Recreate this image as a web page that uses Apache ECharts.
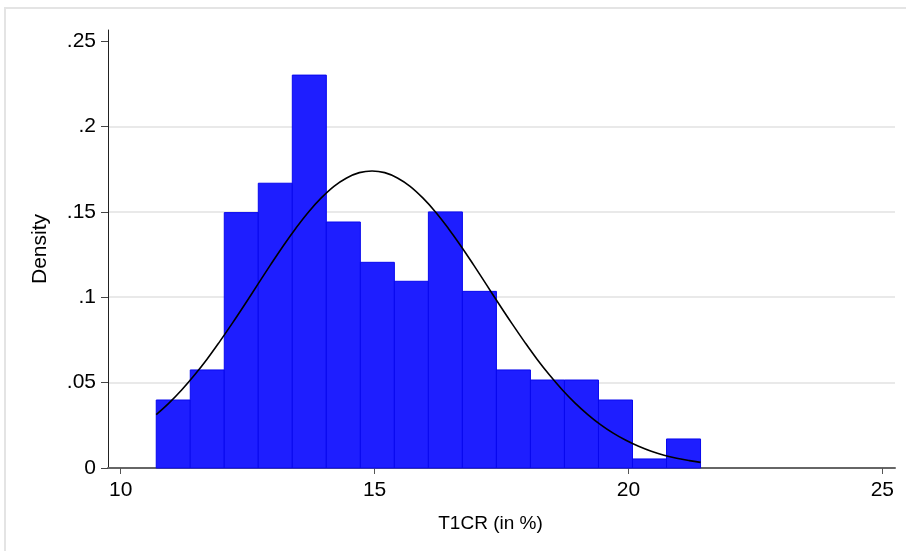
<!DOCTYPE html>
<html>
<head>
<meta charset="utf-8">
<script src="https://cdn.jsdelivr.net/npm/echarts@6/dist/echarts.min.js"></script>
<style>
  html, body { margin: 0; padding: 0; background: #fff; }
  #main { width: 906px; height: 551px; }
</style>
</head>
<body>
<div id="main"></div>
<script>
// histogram bins (T1CR in %), edges and density
var binEdges = [10.70, 11.37, 12.04, 12.71, 13.38, 14.05, 14.72, 15.39, 16.06,
                16.73, 17.40, 18.07, 18.74, 19.41, 20.08, 20.75, 21.42];
var density = [0.0398, 0.0574, 0.1495, 0.1667, 0.2300, 0.1440, 0.1204, 0.1093,
               0.1499, 0.1034, 0.0574, 0.0515, 0.0515, 0.0398, 0.0053, 0.0170];

// normal density overlay
var curveX = [10.70, 10.95, 11.20, 11.45, 11.70, 11.95, 12.20, 12.45, 12.70, 12.95, 13.20,
              13.45, 13.70, 13.95, 14.20, 14.45, 14.70, 14.95, 15.20, 15.45, 15.70, 15.95,
              16.20, 16.45, 16.70, 16.95, 17.20, 17.45, 17.70, 17.95, 18.20, 18.45, 18.70,
              18.95, 19.20, 19.45, 19.70, 19.95, 20.20, 20.45, 20.70, 20.95, 21.20, 21.42];
var curveY = [0.0313, 0.0380, 0.0457, 0.0543, 0.0637, 0.0740, 0.0848, 0.0960, 0.1075, 0.1189, 0.1300,
              0.1404, 0.1499, 0.1581, 0.1649, 0.1698, 0.1729, 0.1739, 0.1729, 0.1698, 0.1649, 0.1581,
              0.1499, 0.1404, 0.1300, 0.1189, 0.1075, 0.0960, 0.0848, 0.0740, 0.0637, 0.0543, 0.0457,
              0.0380, 0.0313, 0.0254, 0.0204, 0.0162, 0.0127, 0.0098, 0.0075, 0.0057, 0.0043, 0.0033];

var xTicks = [10, 15, 20, 25];
var yTicks = [0, 0.05, 0.1, 0.15, 0.2, 0.25];

var bars = [];
for (var i = 0; i < density.length; i++) {
  bars.push([binEdges[i], binEdges[i + 1], density[i]]);
}
var curve = curveX.map(function (x, i) { return [x, curveY[i]]; });

var myChart = echarts.init(document.getElementById('main'));
var fontFam = '"Liberation Sans", Arial, Helvetica, sans-serif';

var option = {
  backgroundColor: '#fff',
  animation: false,
  graphic: [{
    type: 'rect',
    shape: { x: 5, y: 8, width: 910, height: 570 },
    style: { fill: 'none', stroke: '#e4e4e4', lineWidth: 2 },
    silent: true
  }],
  grid: { left: 108, top: 30, right: 11, bottom: 83 },
  xAxis: {
    type: 'value',
    min: 9.75,
    max: 25.25,
    name: 'T1CR (in %)',
    nameLocation: 'middle',
    nameGap: 46,
    nameTextStyle: { fontFamily: fontFam, fontSize: 19, color: '#000', padding: [0, 22, 0, 0] },
    axisLine: { show: true, onZero: false, lineStyle: { color: '#666', width: 2 } },
    axisTick: { show: true, customValues: xTicks, length: 6, lineStyle: { color: '#555', width: 1 } },
    axisLabel: { customValues: xTicks, margin: 12, fontFamily: fontFam, fontSize: 21, color: '#000' },
    splitLine: { show: false }
  },
  yAxis: {
    type: 'value',
    min: 0,
    max: 0.2564,
    interval: 0.05,
    name: 'Density',
    nameLocation: 'middle',
    nameGap: 57,
    nameTextStyle: { fontFamily: fontFam, fontSize: 21, color: '#000' },
    axisLine: { show: true, lineStyle: { color: '#222', width: 1 } },
    axisTick: { show: true, customValues: yTicks, length: 7, lineStyle: { color: '#444', width: 1 } },
    axisLabel: {
      customValues: yTicks,
      margin: 12,
      fontFamily: fontFam,
      fontSize: 21,
      color: '#000',
      formatter: function (v) { return v === 0 ? '0' : String(v).replace(/^0/, ''); }
    },
    splitLine: { show: true, showMinLine: false, showMaxLine: false, lineStyle: { color: '#e2e2e2', width: 1.5 } }
  },
  series: [{
    type: 'custom',
    data: bars,
    encode: { x: [0, 1], y: 2 },
    renderItem: function (params, api) {
      var p0 = api.coord([api.value(0), 0]);
      var p1 = api.coord([api.value(1), api.value(2)]);
      return {
        type: 'rect',
        shape: { x: p0[0], y: p1[1], width: p1[0] - p0[0], height: p0[1] - p1[1] },
        style: { fill: '#1e1eff', stroke: '#0808ee', lineWidth: 1 }
      };
    }
  }, {
    type: 'line',
    data: curve,
    smooth: 0.4,
    symbol: 'none',
    lineStyle: { color: '#000', width: 1.6 },
    z: 5
  }]
};

myChart.setOption(option);
</script>
</body>
</html>
